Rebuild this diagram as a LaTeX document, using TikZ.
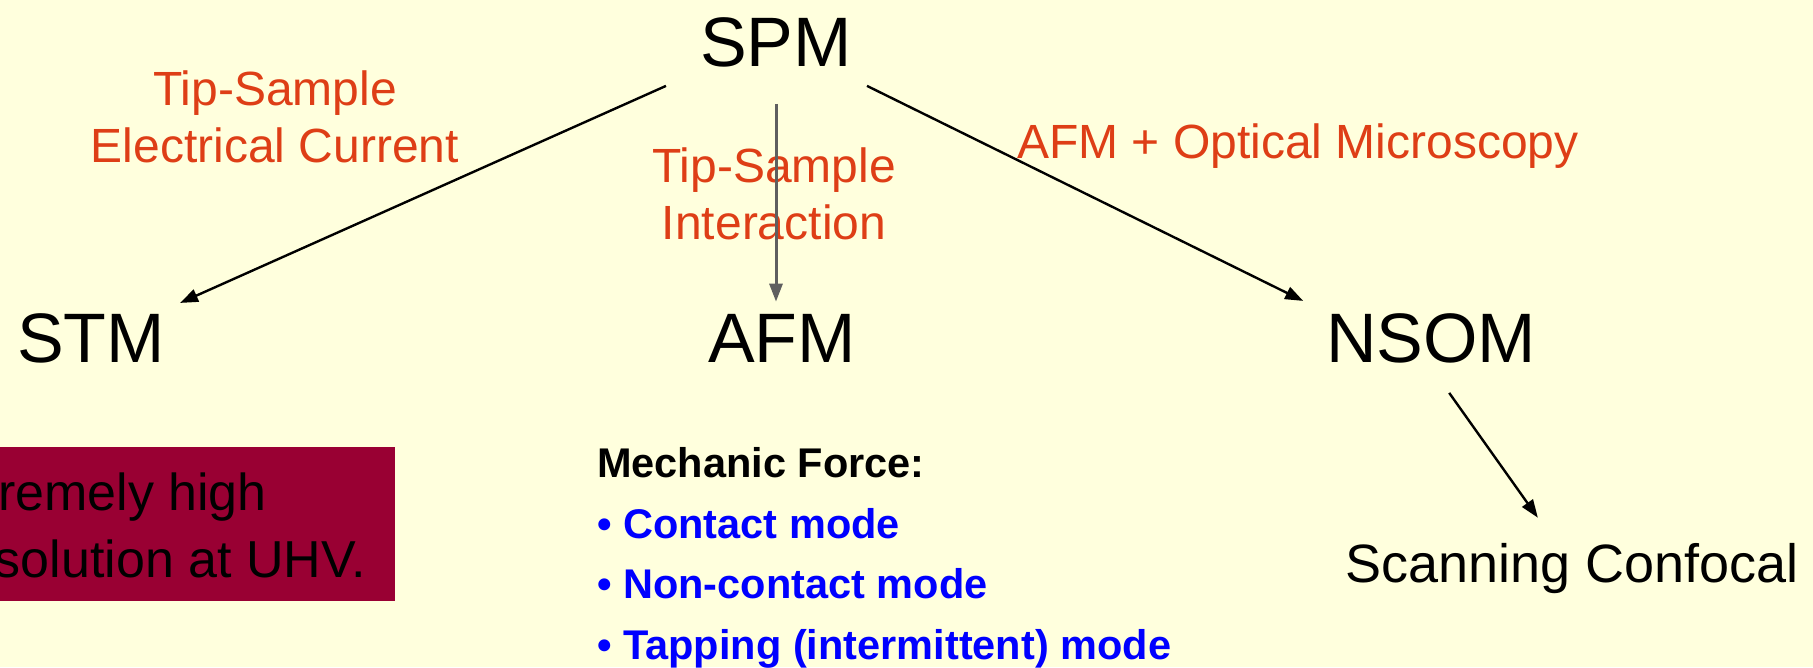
\documentclass[tikz,border=0pt]{standalone}
\usepackage{fontspec}
\setmainfont{Liberation Sans}
\usetikzlibrary{arrows.meta,calc}
\definecolor{bg}{RGB}{255,255,221}
\definecolor{lbl}{RGB}{222,62,22}
\definecolor{boxred}{RGB}{153,0,51}
\definecolor{afmgray}{RGB}{95,95,95}
\begin{document}
\begin{tikzpicture}[x=1pt,y=-1pt,
  big/.style={font=\fontsize{70}{84}\selectfont, inner sep=0pt},
  lab/.style={font=\fontsize{48}{56.5}\selectfont, text=lbl, inner sep=0pt, align=center},
  arr/.style={line width=2.4pt, draw=black, -{Triangle[length=18pt,width=13pt]}},
  boxtxt/.style={font=\fontsize{52}{60}\selectfont, text=black, inner sep=0pt, anchor=base east},
  modes/.style={font=\fontsize{41.5}{60.5}\selectfont\bfseries, inner sep=0pt, align=left, anchor=north west}]
\fill[bg] (0,0) rectangle (1813,667);
\useasboundingbox (0,0) rectangle (1813,667);
% main nodes
\node[big,anchor=base] (spm) at (776,66) {SPM};
\node[big,anchor=base] (stm) at (91,362) {STM};
\node[big,anchor=base] (afm) at (782,362) {AFM};
\node[big,anchor=base west] (nsom) at (1326,362) {NSOM};
% labels
\node[lab,anchor=north] (l1) at (275,71) {Tip-Sample\\Electrical Current};
\node[lab,anchor=north] (l2) at (774,148) {Tip-Sample\\Interaction};
\node[lab,anchor=base west] (l3) at (1017,158) {AFM + Optical Microscopy};
% red box
\node[fill=boxred, inner sep=0pt, minimum width=395pt, minimum height=154pt, anchor=north west] (ubox) at (0,447) {};
\begin{scope}
\clip (0,447) rectangle (395,601);
\node[boxtxt] (b1) at (267,510) {remely high};
\node[boxtxt] (b2) at (366,577) {solution at UHV.};
\end{scope}
% AFM modes
\node[modes] (mf) at (597,447.5) {Mechanic Force:\\\textcolor{blue}{• Contact mode}\\\textcolor{blue}{• Non-contact mode}\\\textcolor{blue}{• Tapping (intermittent) mode}};
% scanning confocal
\node[font=\fontsize{54}{60}\selectfont, anchor=base west, inner sep=0pt] (sc) at (1345,582) {Scanning Confocal};
% connectors
\draw[arr] ($(spm.south)+(-110,19)$) -- ($(stm.north)+(89,-10)$);
\draw[arr, draw=afmgray, line width=3pt] ($(spm.south)+(0,37)$) -- ($(afm.north)+(-6,-12)$);
\draw[arr] ($(spm.south)+(91,19)$) -- ($(nsom.north)+(-128,-12)$);
\draw[arr] ($(nsom.south)+(18,30)$) -- ($(sc.north)+(-34,-25)$);
\end{tikzpicture}
\end{document}
